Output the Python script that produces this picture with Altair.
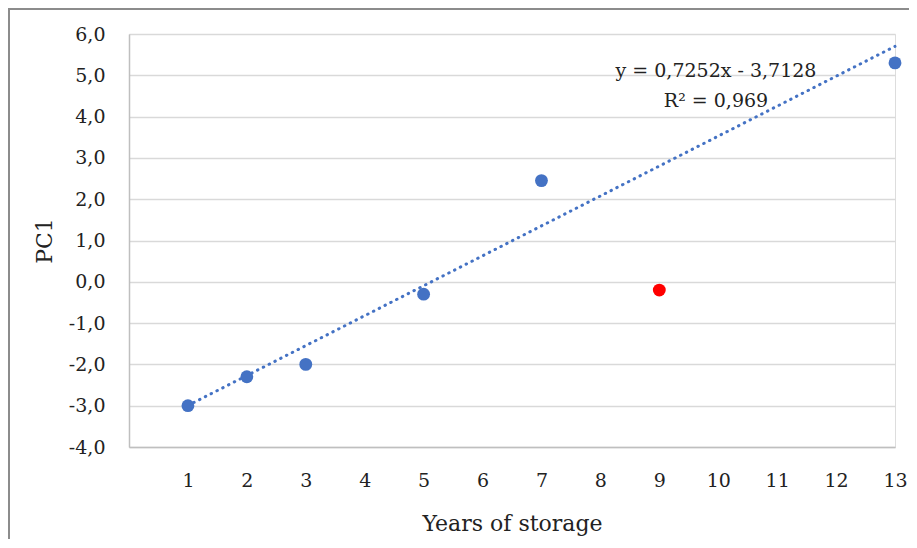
import altair as alt
import pandas as pd

# data
years = [1, 2, 3, 5, 7, 9, 13]
pc1 = [-3.0, -2.3, -2.0, -0.3, 2.45, -0.2, 5.3]
group = ["fit", "fit", "fit", "fit", "fit", "outlier", "fit"]
x_ticks = list(range(1, 14))
y_ticks = list(range(-4, 7))
eq_line1 = "y = 0,7252x - 3,7128"
eq_line2 = "R² = 0,969"

df = pd.DataFrame({"x": years, "y": pc1, "g": group})

FONT = "DejaVu Serif"
W, H = 766, 413

xs = alt.Scale(domain=[0, 13], nice=False, zero=False)
ys = alt.Scale(domain=[-4, 6], nice=False, zero=False)

base = alt.Chart(df)

frame = base.mark_rect(fill=None, stroke="#8c8c8c", strokeWidth=1.5).encode(
    x=alt.value(-120), x2=alt.value(1000), y=alt.value(-25), y2=alt.value(800)
)

points = base.mark_point(filled=True, size=165, opacity=1).encode(
    x=alt.X(
        "x:Q",
        scale=xs,
        axis=alt.Axis(
            values=x_ticks,
            format="d",
            title="Years of storage",
            grid=False,
            ticks=False,
            domain=True,
            domainColor="#bfbfbf",
            domainWidth=1.5,
            labelFont=FONT,
            labelFontSize=19,
            labelColor="#222222",
            labelPadding=24,
            labelFlush=False,
            titleFont=FONT,
            titleFontSize=22,
            titleFontWeight="normal",
            titleColor="#222222",
            titleY=83,
            titleBaseline="alphabetic",
        ),
    ),
    y=alt.Y(
        "y:Q",
        scale=ys,
        axis=alt.Axis(
            values=y_ticks,
            labelExpr="(datum.value < 0 ? '-' : '') + replace(format(abs(datum.value), '.1f'), '.', ',')",
            title="PC1",
            grid=True,
            gridColor="#d9d9d9",
            gridWidth=1.5,
            ticks=False,
            domain=True,
            domainColor="#bfbfbf",
            domainWidth=1.5,
            labelFont=FONT,
            labelFontSize=19,
            labelColor="#222222",
            labelPadding=24,
            labelFlush=False,
            titleFont=FONT,
            titleFontSize=22,
            titleFontWeight="normal",
            titleColor="#222222",
            titleX=-78,
            titleY=H / 2,
            titleAngle=270,
            titleBaseline="alphabetic",
            titleAlign="center",
        ),
    ),
    color=alt.Color(
        "g:N",
        scale=alt.Scale(domain=["fit", "outlier"], range=["#4472C4", "#FF0000"]),
        legend=None,
    ),
)

trend = (
    base.transform_filter(alt.datum.g == "fit")
    .transform_regression("x", "y", extent=[1, 13])
    .mark_line(color="#4472C4", strokeWidth=3, strokeDash=[0.5, 6], strokeCap="round")
    .encode(x=alt.X("x:Q", scale=xs), y=alt.Y("y:Q", scale=ys))
)

t1 = alt.Chart(pd.DataFrame({"t": [eq_line1]})).mark_text(
    font=FONT, fontSize=19, color="#222222", align="center", baseline="alphabetic"
).encode(text="t:N", x=alt.value(587), y=alt.value(43))

t2 = alt.Chart(pd.DataFrame({"t": [eq_line2]})).mark_text(
    font=FONT, fontSize=19, color="#222222", align="center", baseline="alphabetic"
).encode(text="t:N", x=alt.value(587), y=alt.value(73))

chart = (
    alt.layer(frame, trend, points, t1, t2)
    .properties(
        width=W,
        height=H,
        padding={"left": 121, "top": 26, "right": 14, "bottom": 92},
        autosize=alt.AutoSizeParams(type="none"),
    )
    .configure_view(stroke=None)
    .configure(background="white")
)

chart.save("out.html", embed_options={"renderer": "svg", "actions": False})
